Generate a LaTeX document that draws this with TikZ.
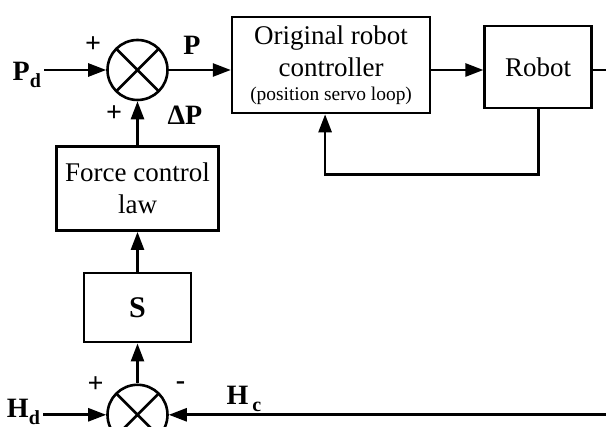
\documentclass[tikz,border=0pt]{standalone}
\usepackage{fontspec}
\setmainfont{Liberation Serif}
\usetikzlibrary{arrows.meta,positioning,calc}
\newcommand{\lsub}[1]{\raisebox{-3.5pt}{\fontsize{10}{10}\selectfont #1}}

\begin{document}
\begin{tikzpicture}[
  line width=1.3pt,
  block/.style={draw,align=center,inner sep=0pt,font=\fontsize{13.5}{16}\selectfont},
  sumnode/.style={circle,draw,minimum size=30pt,inner sep=0pt,
    path picture={\draw (path picture bounding box.north west)--(path picture bounding box.south east)
                        (path picture bounding box.north east)--(path picture bounding box.south west);}},
  lbl/.style={inner sep=1pt,font=\fontsize{14}{16}\selectfont\bfseries},
  sign/.style={inner sep=0pt,font=\fontsize{14}{16}\selectfont\bfseries},
  link/.style={-{Triangle[length=9pt,width=6.5pt]}}
]
  \clip (-68.75pt,35pt) rectangle (234.25pt,-178.5pt);

  % position loop
  \node[sumnode] (sumP) {};
  \node[block,minimum width=99pt,minimum height=48pt,right=31pt of sumP,yshift=2.5pt] (ctrl)
    {Original robot\\controller\\[-4pt]{\fontsize{9.7}{11}\selectfont(position servo loop)}};
  \node[block,minimum width=53.5pt,minimum height=41pt,right=26pt of ctrl,yshift=-1pt] (robot) {Robot};

  % force loop
  \node[block,minimum width=81pt,minimum height=42pt,below=22pt of sumP] (law) {Force control\\law};
  \node[block,minimum width=53.5pt,minimum height=34.5pt,below=20pt of law,
        font=\fontsize{15}{17}\selectfont\bfseries] (sel) {S};
  \node[sumnode,below=20pt of sel] (sumH) {};

  % inputs and labels
  \node[lbl,left=31pt of sumP,yshift=-2.25pt] (pd) {P\lsub{d}};
  \node[lbl,left=31.5pt of sumH,yshift=1.5pt] (hd) {H\lsub{d}};
  \node[sign] (plusPd) at ([shift={(-22.25pt,12.5pt)}]sumP) {+};
  \node[sign] (plusDP) at ([shift={(-11.75pt,-22pt)}]sumP) {+};
  \node[lbl] (pout) at ([shift={(27.25pt,12.5pt)}]sumP) {P};
  \node[lbl] (dp) at ([shift={(23.75pt,-22.5pt)}]sumP) {ΔP};
  \node[sign] (plusHd) at ([shift={(-21pt,15pt)}]sumH) {+};
  \node[sign] (minusHc) at ([shift={(21.5pt,14.5pt)}]sumH) {-};
  \node[lbl] (hc) at ([shift={(53.25pt,8pt)}]sumH) {H\hspace{2pt}\lsub{c}};
  \coordinate (rim) at (234.25pt,0pt);

  \draw[link] (pd.east |- sumP) -- (sumP.west);
  \draw[link] (sumP.east) -- (sumP.east -| ctrl.west);
  \draw[link] (ctrl.east |- sumP) -- (robot.west |- sumP);
  \draw (robot.east |- sumP) -- (rim |- sumP);
  \draw[link] (robot.south) -- ++(0,-32.5pt) -| ([xshift=-3pt]ctrl.south);
  \draw[link] (law.north) -- (sumP.south);
  \draw[link] (sel.north) -- (law.south);
  \draw[link] (sumH.north) -- (sel.south);
  \draw[link] (hd.east |- sumH) -- (sumH.west);
  \draw[link] (rim |- sumH) -- (sumH.east);
\end{tikzpicture}
\end{document}
